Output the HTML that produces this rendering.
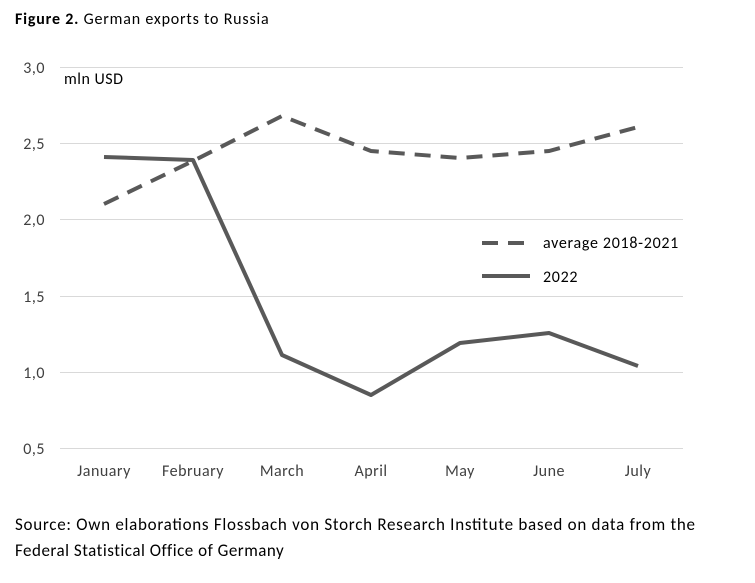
<!DOCTYPE html>
<html><head><meta charset="utf-8"><style>
body{margin:0;background:#fff;width:755px;height:583px;overflow:hidden;font-family:"Carlito","Liberation Sans",sans-serif;color:#000}
</style></head><body>
<svg width="755" height="583" xmlns="http://www.w3.org/2000/svg" style="position:absolute;left:0;top:0">
<rect width="755" height="583" fill="#fff"/>
<text x="15" y="24" font-size="16" letter-spacing="0.8" font-family="Carlito,Liberation Sans,sans-serif"><tspan font-weight="bold">Figure 2.</tspan> German exports to Russia</text>
<g stroke="#d9d9d9" stroke-width="1">
<line x1="60" x2="683" y1="67.5" y2="67.5"/>
<line x1="60" x2="683" y1="143.5" y2="143.5"/>
<line x1="60" x2="683" y1="219.5" y2="219.5"/>
<line x1="60" x2="683" y1="296.5" y2="296.5"/>
<line x1="60" x2="683" y1="372.5" y2="372.5"/>
<line x1="60" x2="683" y1="448.5" y2="448.5"/>
</g>
<g font-size="16" letter-spacing="0.5" fill="#404040" font-family="Carlito,Liberation Sans,sans-serif" text-anchor="end">
<text x="45" y="73">3,0</text><text x="45" y="149">2,5</text><text x="45" y="225">2,0</text>
<text x="45" y="302">1,5</text><text x="45" y="378">1,0</text><text x="45" y="454">0,5</text>
</g>
<g font-size="16" letter-spacing="0.5" fill="#404040" font-family="Carlito,Liberation Sans,sans-serif" text-anchor="middle">
<text x="104" y="476">January</text><text x="193" y="476">February</text><text x="282" y="476">March</text>
<text x="371" y="476">April</text><text x="460" y="476">May</text><text x="549" y="476">June</text><text x="638" y="476">July</text>
</g>
<text x="64" y="84" font-size="16" letter-spacing="0.5" fill="#000" font-family="Carlito,Liberation Sans,sans-serif">mln USD</text>
<polyline fill="none" stroke="#595959" stroke-width="4" stroke-dasharray="16,10" points="104,204 193,161 282,116 371,151 460,158 549,151 638,127"/>
<polyline fill="none" stroke="#595959" stroke-width="4" stroke-linejoin="round" points="104,157 193,160 282,355 371,395 460,343 549,333 638,366"/>
<line x1="482" x2="530" y1="243" y2="243" stroke="#595959" stroke-width="4" stroke-dasharray="16,10"/>
<line x1="482" x2="530" y1="276" y2="276" stroke="#595959" stroke-width="4"/>
<text x="543" y="248" font-size="16" letter-spacing="0.7" fill="#000" font-family="Carlito,Liberation Sans,sans-serif">average 2018-2021</text>
<text x="543" y="282" font-size="16" letter-spacing="0.7" fill="#000" font-family="Carlito,Liberation Sans,sans-serif">2022</text>
<text x="15" y="530" font-size="17" fill="#000" font-family="Carlito,Liberation Sans,sans-serif" textLength="680" lengthAdjust="spacing">Source: Own elaborations Flossbach von Storch Research Institute based on data from the</text>
<text x="15" y="556" font-size="17" letter-spacing="0.5" fill="#000" font-family="Carlito,Liberation Sans,sans-serif">Federal Statistical Office of Germany</text>
</svg>
</body></html>
